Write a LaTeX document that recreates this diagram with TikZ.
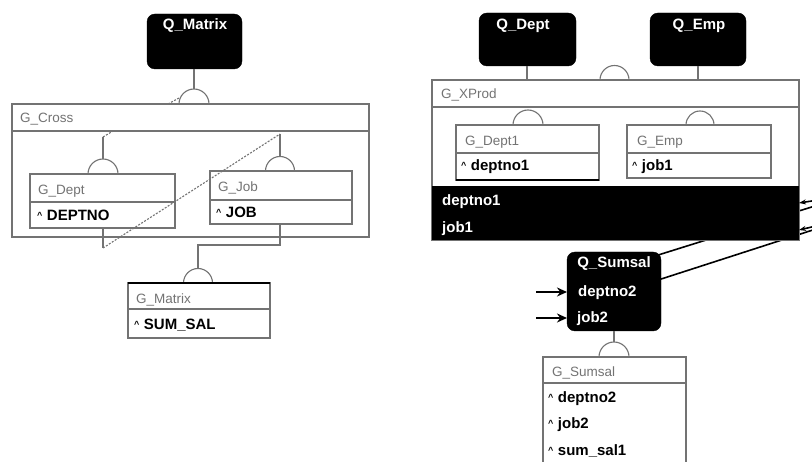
\documentclass[tikz,border=0pt]{standalone}
\usepackage{fontspec}
\setmainfont{Liberation Sans}
\usetikzlibrary{arrows.meta}
\newcommand\crt{\raisebox{2.5pt}{\fontsize{9}{9}\selectfont\textasciicircum}\hspace{4.5pt}}
\begin{document}
\begin{tikzpicture}[x=1pt,y=-1pt,
  line/.style={draw=black!55,line width=1.1pt},
  gbox/.style={line,fill=white,anchor=north west,inner sep=0pt,outer sep=0pt},
  qbox/.style={fill=black,draw=black,rounded corners=8pt,anchor=north west,inner sep=0pt,outer sep=0pt},
  glabel/.style={anchor=base west,inner sep=0pt,text=black!55,font=\fontsize{13.5}{14}\selectfont},
  fld/.style={anchor=base west,inner sep=0pt,font=\fontsize{15}{16}\selectfont\bfseries},
  wfld/.style={fld,text=white},
  qtitle/.style={anchor=base,inner sep=0pt,text=white,font=\fontsize{15}{16}\selectfont\bfseries},
  heavy/.style={draw=black,line width=1.6pt},
  conn/.style={draw=black,line width=1.6pt},
  dline/.style={line,dash pattern=on 2pt off 1.5pt},
]
\useasboundingbox (0,0) rectangle (812,462);
\clip (0,0) rectangle (812,462);

% ---------------- left diagram ----------------
\node[qbox,minimum width=95pt,minimum height=55pt] (qm) at (147,14) {};
\node[qtitle] (qmt) at (195,30) {Q\_Matrix};
\coordinate (jm) at (194,89);
\draw[line] (qm.south -| jm) -- (jm);
\draw[line] (179,104) arc[start angle=180,end angle=0,radius=15pt];
\draw[dline] (168,104) -- (179,98);

\node[gbox,minimum width=357pt,minimum height=133pt] (gc) at (12,104) {};
\draw[line] (gc.west |- 0,131) -- (gc.east |- 0,131);
\node[glabel] (gcl) at (20,123) {G\_Cross};

% G_Dept
\node[gbox,minimum width=145pt,minimum height=54pt] (gd) at (30,174) {};
\draw[line] (gd.west |- 0,202) -- (gd.east |- 0,202);
\node[glabel] (gdl) at (38,195) {G\_Dept};
\node[fld] (gdf) at (37,221) {\crt DEPTNO};
\coordinate (jd) at (103,159);
\coordinate (jdtop) at (103,137);
\draw[line] (jdtop) -- (jd);
\draw[dline] (jdtop) -- (113,131);
\draw[line] (88,174) arc[start angle=180,end angle=0,radius=15pt];

% G_Job
\node[gbox,minimum width=142pt,minimum height=53pt] (gj) at (210,171) {};
\draw[line] (gj.west |- 0,200) -- (gj.east |- 0,200);
\node[glabel] (gjl) at (218,192) {G\_Job};
\node[fld] (gjf) at (216,218) {\crt JOB};
\coordinate (jjtop) at (280,134);
\coordinate (jj) at (280,156.5);
\draw[line] (jjtop) -- (jj);
\draw[line] (265.5,171) arc[start angle=180,end angle=0,radius=14.5pt];

% crossing link G_Dept -> G_Job
\coordinate (dlow) at (103,248);
\draw[line] (gd.south -| dlow) -- (dlow);
\draw[dline] (dlow) -- (jjtop);

% G_Job -> G_Matrix
\coordinate (jlow) at (280,245);
\coordinate (jmx) at (198,268.5);
\draw[line] (gj.south -| jlow) -- (jlow) -- (jlow -| jmx) -- (jmx);
\draw[line] (183.5,283) arc[start angle=180,end angle=0,radius=14.5pt];

% G_Matrix
\node[gbox,minimum width=142pt,minimum height=55pt] (gm) at (128,283) {};
\draw[heavy] (gm.north west) -- (gm.north east);
\draw[line] (gm.west |- 0,309) -- (gm.east |- 0,309);
\node[glabel] (gml) at (136,304) {G\_Matrix};
\node[fld] (gmf) at (134,330) {\crt SUM\_SAL};

% ---------------- right diagram ----------------
\node[qbox,minimum width=97pt,minimum height=53pt] (qd) at (479,13) {};
\node[qtitle] (qdt) at (523,30) {Q\_Dept};
\node[qbox,minimum width=96pt,minimum height=53pt] (qe) at (650,13) {};
\node[qtitle] (qet) at (699,30) {Q\_Emp};

% Q_Sumsal links (pass under the black band)
\coordinate (off1) at (850,195);
\coordinate (off2) at (850,218);
\coordinate (qs1) at (655,256);
\coordinate (qs2) at (655,281);
\draw[conn] (qs1) -- (off1);
\draw[conn] (qs2) -- (off2);

% G_XProd
\node[gbox,fill=none,minimum width=367pt,minimum height=160pt] (xp) at (432,80) {};
\fill[black] (432,186) rectangle (799,240);
\draw[line] (xp.west |- 0,107) -- (xp.east |- 0,107);
\node[glabel] (xpl) at (441,99) {G\_XProd};
\node[wfld] (xpf1) at (442,206) {deptno1};
\node[wfld] (xpf2) at (442,233) {job1};
\draw[line] (qd.south -| 527,0) -- (xp.north -| 527,0);
\draw[line] (qe.south -| 698,0) -- (xp.north -| 698,0);
\draw[line] (600,80) arc[start angle=180,end angle=0,radius=14.5pt];

\draw[conn,-{Stealth[length=7pt,width=5pt,fill=white]}] (off1) -- (xp.east |- 0,203);
\draw[conn,-{Stealth[length=7pt,width=5pt,fill=white]}] (off2) -- (xp.east |- 0,230);

% G_Dept1
\node[gbox,minimum width=143pt,minimum height=55pt] (gd1) at (456,125) {};
\draw[heavy] (gd1.south west) -- (gd1.south east);
\draw[line] (gd1.west |- 0,153) -- (gd1.east |- 0,153);
\node[glabel] (gd1l) at (465,146) {G\_Dept1};
\node[fld] (gd1f) at (461,171) {\crt deptno1};
\draw[line] (513,125) arc[start angle=180,end angle=0,radius=15pt];

% G_Emp
\node[gbox,minimum width=144pt,minimum height=53pt] (ge) at (627,125) {};
\draw[line] (ge.west |- 0,153) -- (ge.east |- 0,153);
\node[glabel] (gel) at (637,146) {G\_Emp};
\node[fld] (gef) at (632,171) {\crt job1};
\draw[line] (686,125) arc[start angle=180,end angle=0,radius=14pt];

% Q_Sumsal
\node[qbox,minimum width=94pt,minimum height=79pt] (qs) at (567,252) {};
\node[qtitle] (qst) at (614,268) {Q\_Sumsal};
\node[wfld] (qsf1) at (578,297) {deptno2};
\node[wfld] (qsf2) at (577,323) {job2};
\coordinate (in1) at (536,292);
\coordinate (in2) at (536,318);
\draw[conn,-{Stealth[length=10pt,width=9pt]}] (in1) -- (qs.west |- in1);
\draw[conn,-{Stealth[length=10pt,width=9pt]}] (in2) -- (qs.west |- in2);

% G_Sumsal
\coordinate (js) at (614,342);
\draw[line] (qs.south -| js) -- (js);
\draw[line] (599,357) arc[start angle=180,end angle=0,radius=15pt];
\node[gbox,minimum width=143pt,minimum height=130pt] (gs) at (543,357) {};
\draw[line] (gs.west |- 0,383) -- (gs.east |- 0,383);
\node[glabel] (gsl) at (552,377) {G\_Sumsal};
\node[fld] (gsf1) at (548,403) {\crt deptno2};
\node[fld] (gsf2) at (548,429) {\crt job2};
\node[fld] (gsf3) at (548,456) {\crt sum\_sal1};
\end{tikzpicture}
\end{document}
